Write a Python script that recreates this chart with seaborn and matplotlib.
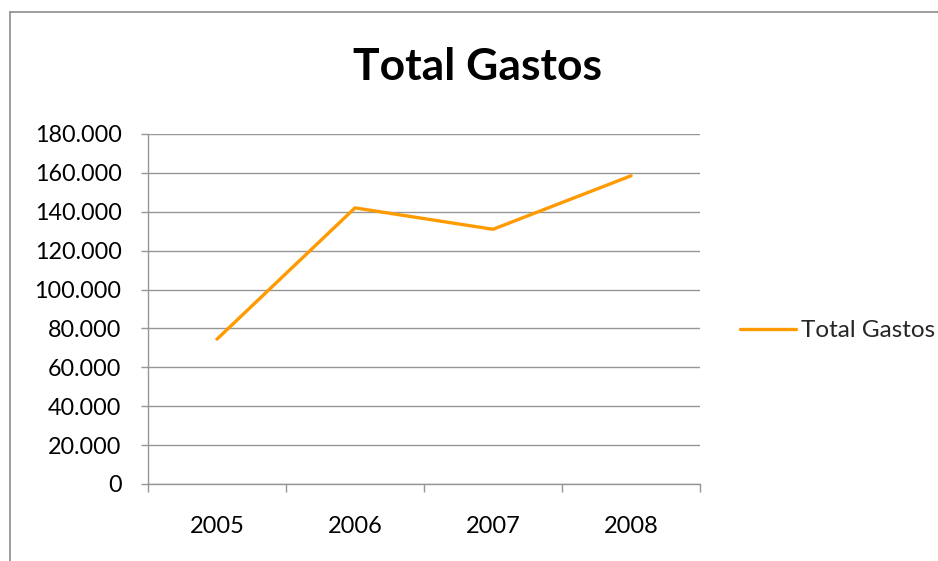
import matplotlib
matplotlib.use("Agg")
import matplotlib.pyplot as plt
from matplotlib.ticker import FuncFormatter, FixedLocator, MultipleLocator
from matplotlib.lines import Line2D
import pandas as pd
import seaborn as sns

# Annual spending totals
years = ["2005", "2006", "2007", "2008"]
total_gastos = [74500, 142000, 131000, 158500]
series_name = "Total Gastos"
title = "Total Gastos"

sns.set_theme(style="white")
plt.rcParams["font.family"] = ["Lato", "DejaVu Sans"]

df = pd.DataFrame({"Año": years, series_name: total_gastos})

fig = plt.figure(figsize=(9.38, 5.61), dpi=100)
ax = fig.add_axes([148 / 938, 77 / 561, 552 / 938, 350 / 561])

line_color = "#FF9A00"
grid_color = "#969696"

sns.lineplot(data=df, x="Año", y=series_name, ax=ax, color=line_color,
             linewidth=2.4, sort=False, legend=False)

ax.set_xlim(-0.5, len(years) - 0.5)
ax.set_ylim(0, 180000)
ax.yaxis.set_major_locator(MultipleLocator(20000))
ax.yaxis.set_major_formatter(FuncFormatter(lambda v, p: f"{int(round(v)):,}".replace(",", ".")))
ax.grid(axis="y", color=grid_color, linewidth=1.0)
ax.set_axisbelow(True)

# category labels centred, tick marks on the category boundaries
ax.set_xticks(range(len(years)))
ax.set_xticklabels(years)
ax.xaxis.set_minor_locator(FixedLocator([i - 0.5 for i in range(len(years) + 1)]))
ax.tick_params(axis="x", which="major", length=0, pad=23, labelsize=17, colors="#000000")
ax.tick_params(axis="x", which="minor", length=6, width=1, color=grid_color, direction="out", bottom=True)
ax.tick_params(axis="y", which="major", length=5, width=1, color=grid_color, direction="out",
               left=True, pad=14, labelsize=16.8, labelcolor="#000000")

ax.set_xlabel("")
ax.set_ylabel("")
for side in ["top", "right"]:
    ax.spines[side].set_visible(False)
for side in ["left", "bottom"]:
    ax.spines[side].set_color(grid_color)
    ax.spines[side].set_linewidth(1.0)

fig.text(0.509, 1 - 79.5 / 561, title, ha="center", va="baseline", fontsize=32,
         fontweight="bold", color="#000000")

handle = Line2D([], [], color=line_color, linewidth=2.4)
fig.legend([handle], [series_name], loc="center left", bbox_to_anchor=(740 / 938, 0.41),
           frameon=False, fontsize=17.5, handlelength=2.3, handletextpad=0.2,
           borderaxespad=0, borderpad=0)

# chart area border
border_color = "#8C8C8C"
fig.add_artist(Line2D([10 / 938, 10 / 938], [0, 1 - 12 / 561], transform=fig.transFigure,
                      color=border_color, linewidth=1.2))
fig.add_artist(Line2D([10 / 938, 1], [1 - 12 / 561, 1 - 12 / 561], transform=fig.transFigure,
                      color=border_color, linewidth=1.2))

fig.savefig("out.png", dpi=100)
